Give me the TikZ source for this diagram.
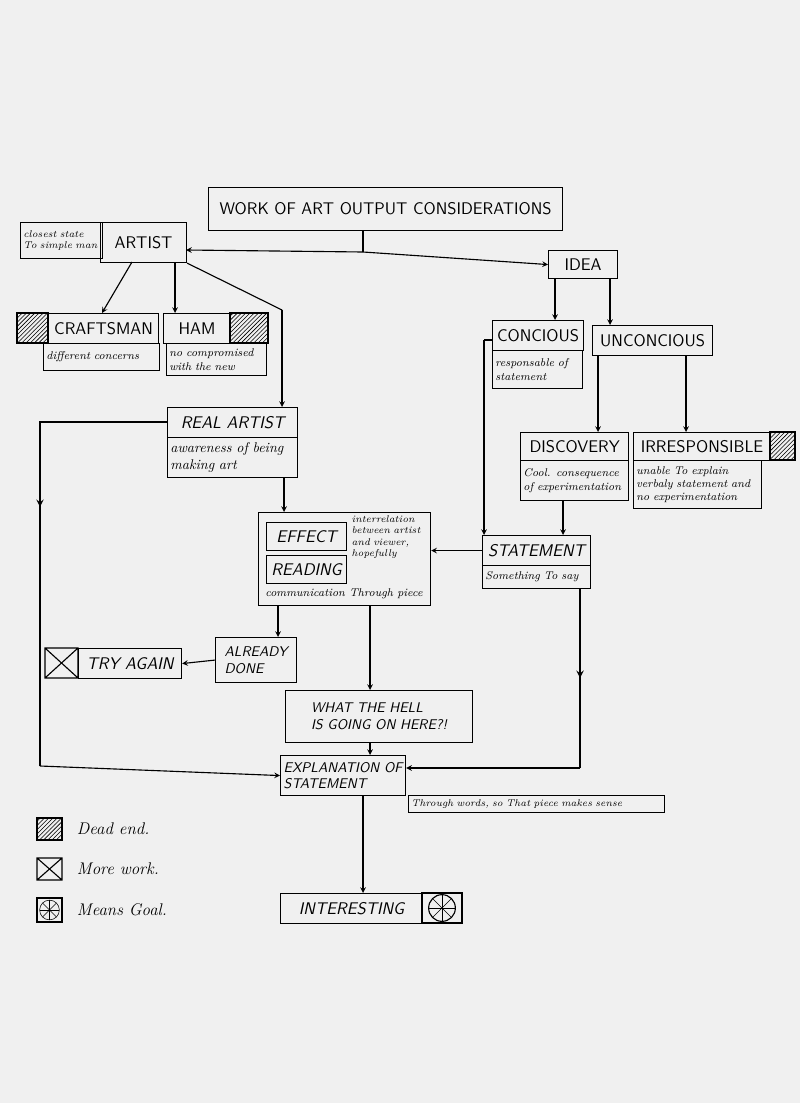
\documentclass[tikz,border=0pt]{standalone}
\usetikzlibrary{patterns,decorations.markings}
\begin{document}
\begin{tikzpicture}[x=0.025cm,y=-0.025cm,>=stealth,
	main node/.style={draw,thick,anchor=north west,inner sep=2pt,font=\sffamily\large},
	sub node/.style={draw,thick,anchor=north west,inner sep=2pt,align=left,font=\itshape\footnotesize,text width=#1},
	link/.style={->,thick},
	mid arrow/.style={thick,postaction={decorate},decoration={markings,mark=at position #1 with {\arrow[scale=1.3]{stealth}}}}
]
	\fill[gray!12] (0,0) rectangle (800,1103);
	\useasboundingbox (0,0) rectangle (800,1103);

	% top row
	\node[main node,minimum width=8.85cm,minimum height=1.075cm] at (208,187) (title) {WORK OF ART OUTPUT CONSIDERATIONS};
	\node[main node,minimum width=2.15cm,minimum height=1cm] at (100,222) (artist) {ARTIST};
	\node[sub node=1.9cm,minimum height=0.9cm,font=\itshape\scriptsize] at (20,222) (simple) {closest state To simple man};
	\node[main node,minimum width=1.725cm,minimum height=0.7cm] at (548,250) (idea) {IDEA};
	\coordinate (split) at (363,252);
	\coordinate (artistend) at (186,250);
	\draw[thick] (363,230) -- (split);
	\draw[link] (split) -- (artistend);
	\draw[link] (split) -- (idea.west);

	% left branch
	\node[main node,minimum width=2.75cm,minimum height=0.75cm] at (48,313) (crafts) {CRAFTSMAN};
	\draw[thick,pattern=north east lines] (17,313) rectangle (48,343);
	\node[sub node=2.75cm,minimum height=0.675cm] at (43,343) (craftsnote) {different concerns};
	\node[main node,minimum width=1.675cm,minimum height=0.75cm] at (163,313) (ham) {HAM};
	\draw[thick,pattern=north east lines] (230,313) rectangle (268,343);
	\node[sub node=2.35cm,minimum height=0.8cm] at (166,343) (hamnote) {no compromised with the new};
	\node[main node,minimum width=3.25cm,minimum height=0.75cm,font=\sffamily\itshape\large] at (167,407) (real) {REAL ARTIST};
	\node[sub node=3.1cm,minimum height=1cm,font=\itshape\normalsize] at (167,437) (realnote) {awareness of being making art};
	\coordinate (bend1) at (282,310);
	\draw[link] (132,262) -- (102,313);
	\draw[link] (175,262) -- (175,313);
	\draw[thick] (artist.south east) -- (bend1);
	\draw[link] (bend1) -- (real.north east -| bend1);

	% right branch
	\node[main node,minimum width=2.275cm,minimum height=0.75cm] at (492,320) (con) {CONCIOUS};
	\node[sub node=2.1cm,minimum height=0.95cm] at (492,350) (connote) {responsable of statement};
	\node[main node,minimum width=3cm,minimum height=0.75cm] at (592,325) (uncon) {UNCONCIOUS};
	\draw[link] (555,278) -- (555,320);
	\draw[link] (610,278) -- (610,325);
	\node[main node,minimum width=2.7cm,minimum height=0.7cm] at (520,432) (disc) {DISCOVERY};
	\node[sub node=2.55cm,minimum height=1cm] at (520,460) (discnote) {Cool. consequence of experimentation};
	\node[main node,minimum width=3.425cm,minimum height=0.7cm] at (633,432) (irr) {IRRESPONSIBLE};
	\draw[thick,pattern=north east lines] (770,432) rectangle (795,460);
	\node[sub node=3.05cm,minimum height=1.2cm] at (633,460) (irrnote) {unable To explain\\verbaly statement and\\no experimentation};
	\draw[link] (598,355) -- (598,432);
	\draw[link] (686,355) -- (686,432);
	\node[main node,minimum width=2.7cm,minimum height=0.75cm,font=\sffamily\itshape\large] at (482,535) (stat) {STATEMENT};
	\node[sub node=2.55cm,minimum height=0.575cm] at (482,565) (statnote) {Something To say};
	\draw[link] (563,500) -- (563,535);
	\coordinate (conleft) at (484,340);
	\draw[thick] (con.west |- conleft) -- (conleft);
	\draw[link] (conleft) -- (484,535);

	% middle
	\node[draw,thick,anchor=north west,minimum width=4.3cm,minimum height=2.325cm] at (258,512) (reading) {};
	\node[main node,minimum width=2cm,minimum height=0.7cm,font=\sffamily\itshape\large] at (266,522) (effect) {EFFECT};
	\node[main node,minimum width=2cm,minimum height=0.7cm,font=\sffamily\itshape\large] at (266,555) (read) {READING};
	\node[anchor=north west,inner sep=1pt,align=left,font=\itshape\scriptsize,text width=1.9cm] at (350,514) (inter) {interrelation between artist and viewer, hopefully};
	\node[anchor=center,inner sep=1pt,font=\itshape\footnotesize] at (344,594) (comm) {communication Through piece};
	\draw[link] (284,477) -- (284,512);
	\draw[link] (stat.west) -- (reading.east |- stat.west);
	\node[main node,minimum width=2.025cm,minimum height=1.125cm,align=left,font=\sffamily\itshape] at (215,637) (done) {ALREADY\\DONE};
	\node[main node,minimum width=2.575cm,minimum height=0.75cm,font=\sffamily\itshape\large] at (78,648) (again) {TRY AGAIN};
	\draw[thick] (45,648) rectangle (78,678) (45,648) -- (78,678) (45,678) -- (78,648);
	\draw[link] (278,605) -- (278,637);
	\draw[link] (done.west) -- (again.east);
	\node[main node,minimum width=4.675cm,minimum height=1.3cm,align=left,font=\sffamily\itshape] at (285,690) (hell) {WHAT THE HELL\\IS GOING ON HERE?!};
	\draw[link] (370,605) -- (370,690);
	\node[main node,minimum width=3.125cm,minimum height=1cm,align=left,font=\sffamily\itshape,inner sep=1pt] at (280,755) (expl) {EXPLANATION OF\\STATEMENT};
	\node[sub node=6.25cm,minimum height=0.425cm,font=\itshape\scriptsize] at (408,795) (words) {Through words, so That piece makes sense};
	\draw[link] (370,742) -- (370,755);
	\coordinate (left1) at (40,422);
	\coordinate (left2) at (40,766);
	\draw[mid arrow=0.45] (real.west |- left1) -- (left1) -- (left2);
	\draw[link] (left2) -- (expl.west);
	\coordinate (right1) at (580,588);
	\coordinate (right2) at (580,768);
	\draw[mid arrow=0.5] (right1) -- (right2);
	\draw[link] (right2) -- (expl.east |- right2);
	\node[main node,minimum width=3.55cm,minimum height=0.75cm,font=\sffamily\itshape\large] at (280,893) (interest) {INTERESTING};
	\draw[thick] (422,893) rectangle (462,923);
	\draw[thick] (442,908) circle (9.5pt);
	\foreach \a in {0,45,...,315}
		\draw (442,908) -- ++(\a:9.5pt);
	\draw[link] (363,795) -- (interest.north -| 363,0);

	% legend
	\draw[thick,pattern=north east lines] (37,818) rectangle (62,840);
	\node[anchor=west,font=\itshape\large] at (72,829) (dead) {Dead end.};
	\draw[thick] (37,858) rectangle (62,880) (37,858) -- (62,880) (37,880) -- (62,858);
	\node[anchor=west,font=\itshape\large] at (72,869) (work) {More work.};
	\draw[thick] (37,898) rectangle (62,922);
	\draw (49.5,910) circle (7pt);
	\foreach \a in {0,45,...,315}
		\draw (49.5,910) -- ++(\a:7pt);
	\node[anchor=west,font=\itshape\large] at (72,910) (goal) {Means Goal.};
\end{tikzpicture}
\end{document}
